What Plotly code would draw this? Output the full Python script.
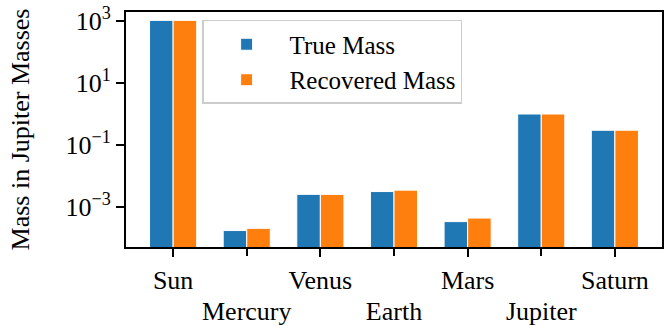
import plotly.graph_objects as go

bodies = ["Sun", "Mercury", "Venus", "Earth", "Mars", "Jupiter", "Saturn"]
true_mass = [1047.6, 1.74e-4, 2.56e-3, 3.15e-3, 3.38e-4, 1.0, 0.299]
recovered_mass = [1047.0, 2.05e-4, 2.55e-3, 3.5e-3, 4.4e-4, 1.0, 0.30]
y_tick_vals = [1e3, 1e1, 1e-1, 1e-3]
y_tick_text = ["10<sup>3</sup>", "10<sup>1</sup>", "10<sup>−1</sup>", "10<sup>−3</sup>"]

row1 = bodies[0::2]
row2 = bodies[1::2]

FONT = "Liberation Serif"
blue = "#1f77b4"
orange = "#ff7f0e"
FS = 26

fig = go.Figure()
fig.add_trace(go.Bar(x=bodies, y=true_mass, name="True Mass",
                     marker=dict(color=blue, line=dict(color="white", width=1))))
fig.add_trace(go.Bar(x=bodies, y=recovered_mass, name="Recovered Mass",
                     marker=dict(color=orange, line=dict(color="white", width=1))))
# invisible helper so the second-row category axis is drawn
fig.add_trace(go.Scatter(x=bodies, y=true_mass, xaxis="x2", mode="markers",
                         marker=dict(opacity=0), showlegend=False, hoverinfo="skip"))

common_x = dict(type="category", range=[-0.64, 6.64], categoryorder="array",
                categoryarray=bodies, tickangle=0, automargin=False,
                ticks="outside", ticklen=8, tickwidth=2, tickcolor="black",
                showgrid=False, zeroline=False,
                tickfont=dict(family=FONT, size=FS, color="black"))

fig.update_layout(
    width=670, height=326,
    margin=dict(l=126, r=8, t=12, b=79),
    paper_bgcolor="white", plot_bgcolor="white",
    barmode="group", bargap=0.36, bargroupgap=0.0,
    font=dict(family=FONT, size=FS, color="black"),
    legend=dict(x=0.142, y=0.966, xanchor="left", yanchor="top",
                bgcolor="rgba(255,255,255,0.8)", bordercolor="#cccccc", borderwidth=1.5,
                font=dict(family=FONT, size=25), itemwidth=76),
    xaxis=dict(**common_x, tickmode="array", tickvals=row1, ticktext=row1,
               showline=True, linecolor="black", linewidth=2, mirror=True,
               ticklabelstandoff=1),
    xaxis2=dict(**common_x, overlaying="x", anchor="y", side="bottom",
                tickmode="array", tickvals=row2, ticktext=row2,
                showline=False, ticklabelstandoff=33),
    yaxis=dict(type="log", range=[-4.29, 3.29], tickmode="array", automargin=False,
               tickvals=y_tick_vals, ticktext=y_tick_text,
               showline=True, linecolor="black", linewidth=2, mirror=True,
               ticks="outside", ticklen=8, tickwidth=2, tickcolor="black",
               showgrid=False, zeroline=False, tickfont=dict(family=FONT, size=FS),
               title=dict(text="Mass in Jupiter Masses", font=dict(family=FONT, size=26), standoff=28)),
)

fig.write_html("out.html")
